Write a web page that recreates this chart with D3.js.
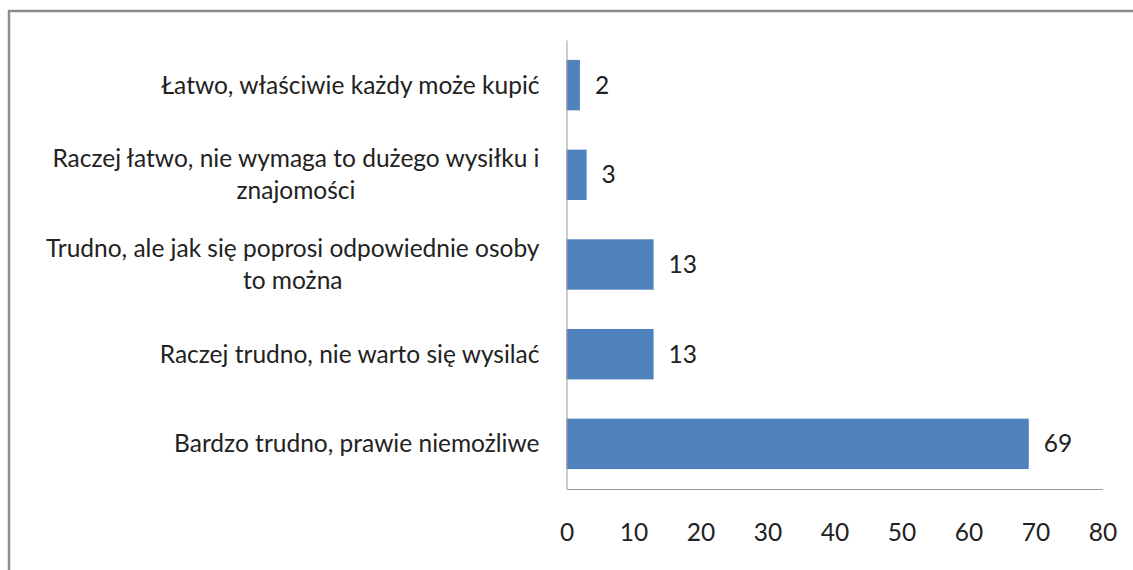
<!DOCTYPE html>
<html lang="pl">
<head>
    <meta charset="UTF-8">
    <title>Horizontal Bar Chart</title>
    <script src="https://d3js.org/d3.v7.min.js"></script>
    <style>
        body{
            margin: 0;
            background: white;
        }
        svg{
            display: block;
        }
        text{
            font-family: Lato, "Open Sans", sans-serif;
            fill: #222;
        }
    </style>
</head>
<body>
<svg width="1133" height="570"></svg>
<script>

    // data (top to bottom)
    let categories = [
        "Łatwo, właściwie każdy może kupić",
        "Raczej łatwo, nie wymaga to dużego wysiłku i\nznajomości",
        "Trudno, ale jak się poprosi odpowiednie osoby\nto można",
        "Raczej trudno, nie warto się wysilać",
        "Bardzo trudno, prawie niemożliwe"
    ]
    let values = [2, 3, 13, 13, 69]
    let xTicks = [0, 10, 20, 30, 40, 50, 60, 70, 80]

    let svg = d3.select('svg')
    let margins = {left:566.5, right:30.5, top:40, bottom:81}
    let W = 1133, H = 570
    let fontSize = 24.5

    // outer frame (right and bottom edges run off the picture)
    svg.append('rect')
        .attr('x', 9).attr('y', 11)
        .attr('width', 1300).attr('height', 800)
        .attr('fill', 'none')
        .attr('stroke', '#8c8c8c')
        .attr('stroke-width', 2.5)

    let data = categories.map(function(c, i){ return {cat: c, value: values[i]} })

    let xScale = d3.scaleLinear()
        .domain([0, 80])
        .range([margins.left, W - margins.right])
    let yScale = d3.scaleBand()
        .domain(categories)
        .range([margins.top, H - margins.bottom])
        .paddingInner(0.438)
        .paddingOuter(0.222)

    // bars
    svg.selectAll('rect.bar')
        .data(data)
        .enter().append('rect')
        .attr('class', 'bar')
        .attr('x', xScale(0))
        .attr('y', function(d){ return yScale(d.cat) })
        .attr('width', function(d){ return xScale(d.value) - xScale(0) })
        .attr('height', yScale.bandwidth())
        .attr('fill', '#4f81bd')

    // value labels
    svg.selectAll('text.val')
        .data(data)
        .enter().append('text')
        .attr('class', 'val')
        .attr('x', function(d){ return xScale(d.value) + 15 })
        .attr('y', function(d){ return yScale(d.cat) + yScale.bandwidth()/2 })
        .attr('dy', '0.35em')
        .style('font-size', fontSize + 'px')
        .text(function(d){ return d.value })

    // axes
    let x_axis = svg.append('g')
        .attr('transform', 'translate(0,' + (H - margins.bottom) + ')')
        .call(d3.axisBottom(xScale).tickValues(xTicks).tickSize(0).tickPadding(43))
    x_axis.select('.domain').attr('stroke', '#999')
    x_axis.selectAll('text')
        .style('font-size', fontSize + 'px')
        .attr('fill', '#222')
        .attr('dy', '0.35em')

    let y_axis = svg.append('g')
        .attr('transform', 'translate(' + margins.left + ',0)')
        .call(d3.axisLeft(yScale).tickSize(0).tickFormat(''))
    y_axis.select('.domain').attr('stroke', '#999')

    // category labels, wrapped where the original breaks
    let lineGap = 32
    let catLabels = svg.selectAll('text.cat')
        .data(categories)
        .enter().append('text')
        .attr('class', 'cat')
        .attr('text-anchor', 'middle')
        .style('font-size', fontSize + 'px')
    catLabels.each(function(c){
        let lines = c.split('\n')
        let el = d3.select(this)
        let mid = yScale(c) + yScale.bandwidth()/2
        // keep the longest line right-aligned at the same edge
        let right = margins.left - 27
        lines.forEach(function(l, j){
            el.append('tspan')
                .attr('y', mid + (j - (lines.length - 1)/2) * lineGap)
                .attr('dy', '0.35em')
                .text(l)
        })
        let w = d3.max(el.selectAll('tspan').nodes(), function(n){ return n.getComputedTextLength() })
        el.selectAll('tspan').attr('x', right - w/2)
    })

</script>
</body>
</html>
